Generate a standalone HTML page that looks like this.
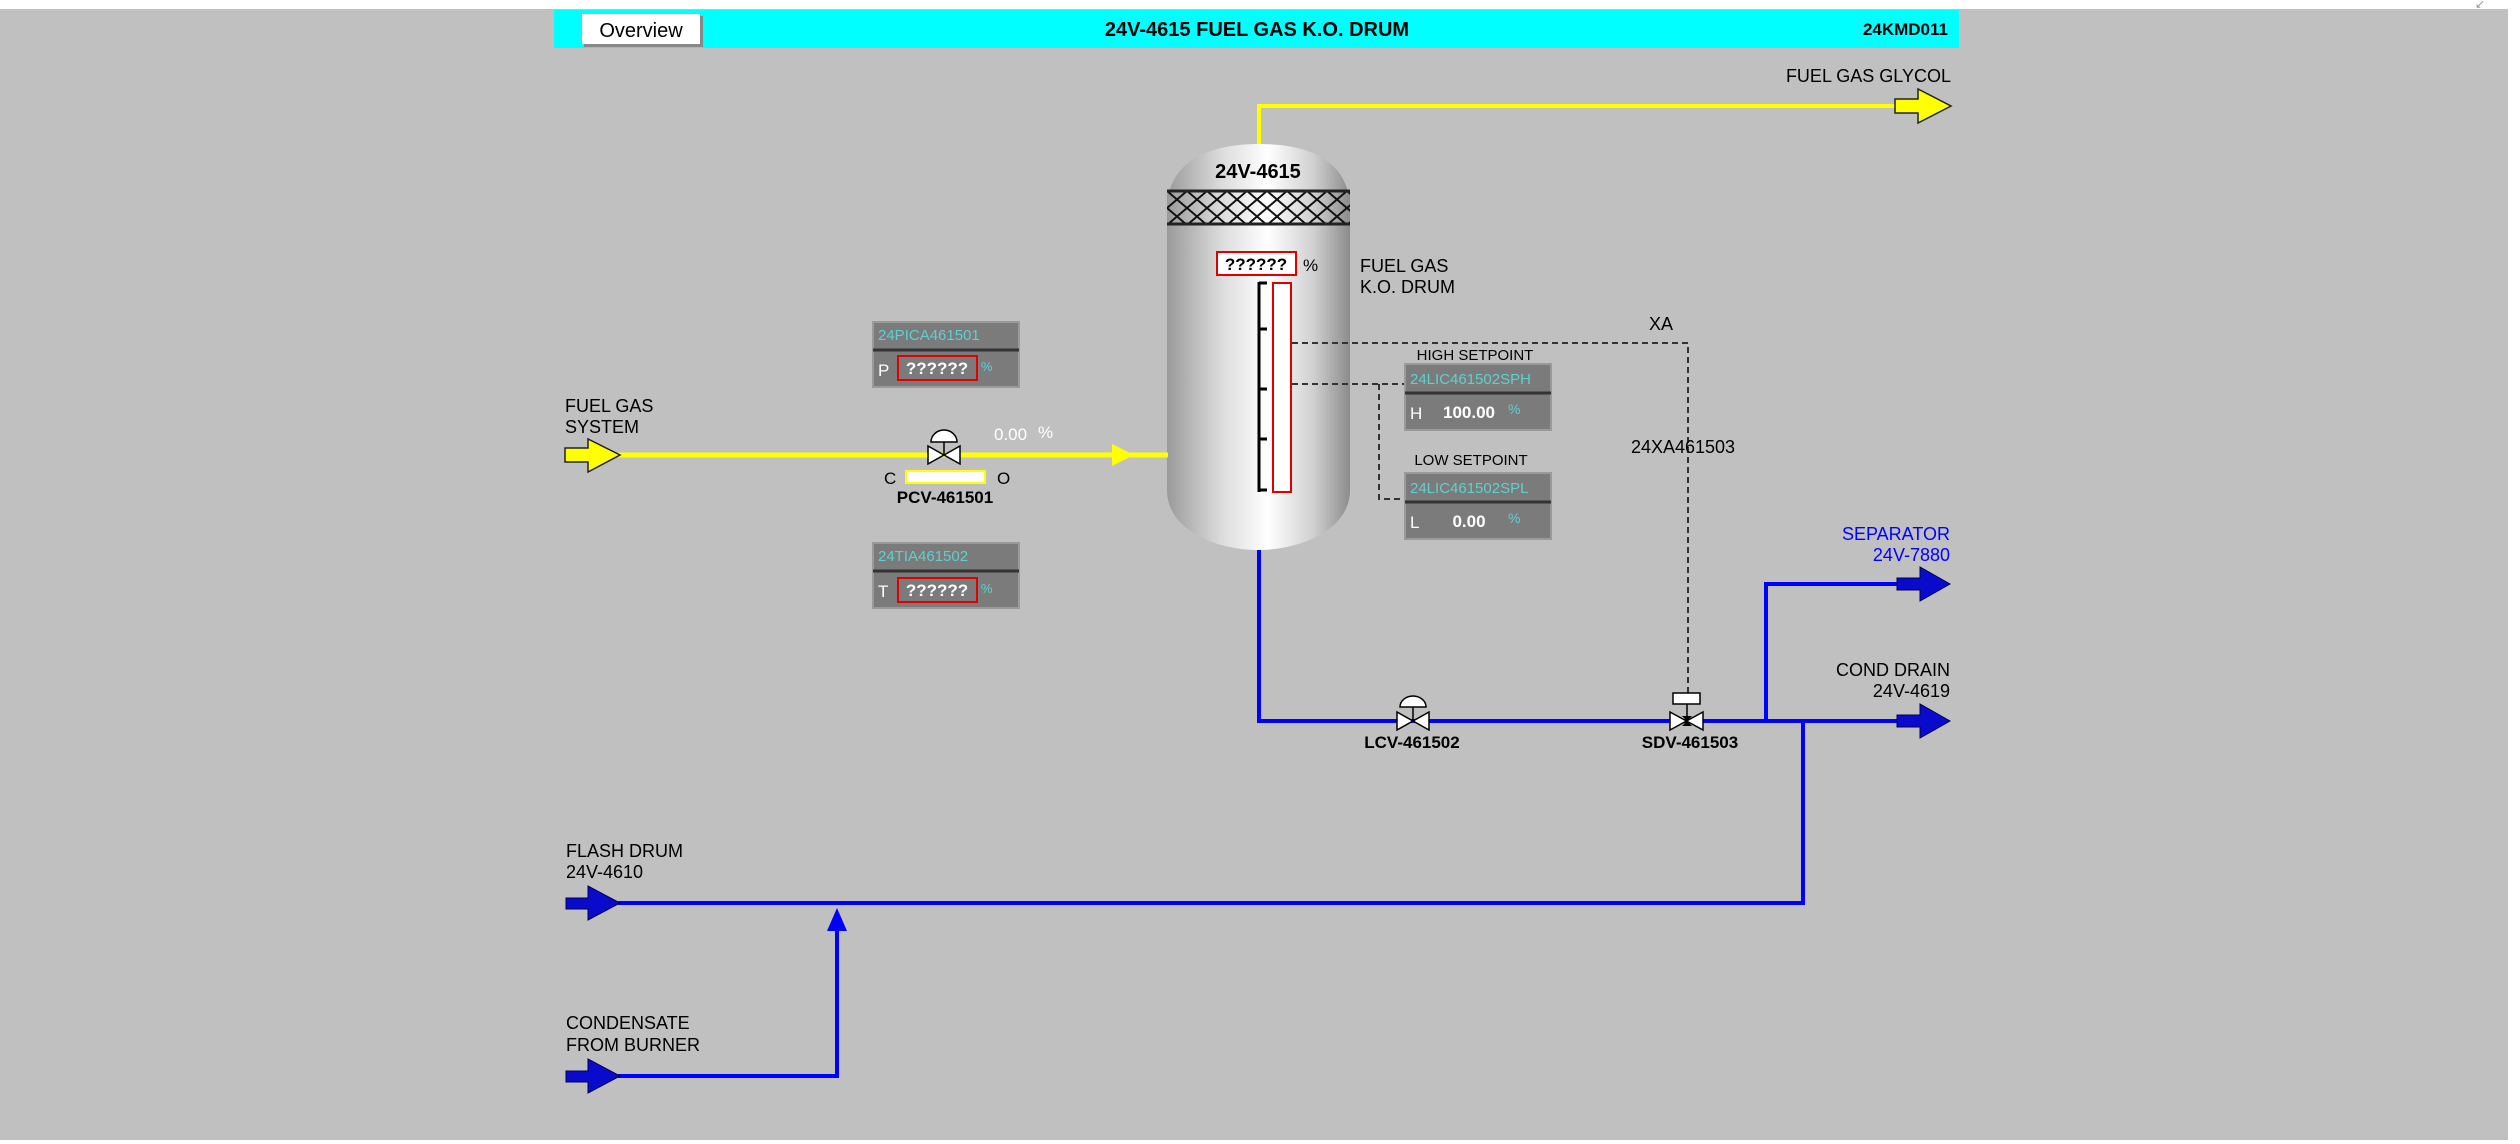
<!DOCTYPE html>
<html><head><meta charset="utf-8"><style>
html,body{margin:0;padding:0;width:2520px;height:1144px;overflow:hidden;background:#fff}
svg{display:block}
text{font-family:"Liberation Sans",Arial,sans-serif}
</style></head><body>
<svg width="2520" height="1144" viewBox="0 0 2520 1144" xmlns="http://www.w3.org/2000/svg">
<defs>
<linearGradient id="vg" x1="0" x2="1" y1="0" y2="0">
<stop offset="0" stop-color="#9a9a9a"/><stop offset="0.3" stop-color="#dcdcdc"/><stop offset="0.55" stop-color="#ffffff"/><stop offset="0.8" stop-color="#d0d0d0"/><stop offset="1" stop-color="#8c8c8c"/>
</linearGradient>
<pattern id="mesh" width="20" height="17" patternUnits="userSpaceOnUse" x="1167" y="191">
<path d="M0 0 L20 17 M20 0 L0 17" stroke="#111" stroke-width="2"/>
</pattern>
</defs>
<rect x="0" y="9" width="2508" height="1131" fill="#c0c0c0"/>
<text x="2475" y="8" font-size="12" fill="#999">↙</text>
<!-- header -->
<rect x="554" y="10" width="1405" height="38" fill="#00ffff"/>
<rect x="584" y="16" width="119" height="31" fill="#888"/>
<rect x="582" y="14" width="118" height="30" fill="#fff"/>
<text x="641" y="37" font-size="20" text-anchor="middle" fill="#000">Overview</text>
<text x="1257" y="36" font-size="20" font-weight="bold" text-anchor="middle">24V-4615 FUEL GAS K.O. DRUM</text>
<text x="1948" y="35" font-size="17" font-weight="bold" text-anchor="end">24KMD011</text>

<!-- yellow top line -->
<polyline points="1259,144 1259,106 1897,106" fill="none" stroke="#ffff00" stroke-width="4"/>
<path d="M1895 99 H1918 V89 L1951 106 L1918 123 V113 H1895 Z" fill="#ffff00" stroke="#222" stroke-width="1.5"/>
<text x="1951" y="82" font-size="18" text-anchor="end">FUEL GAS GLYCOL</text>

<!-- vessel -->
<path d="M1167 210 C1167 150 1230 144 1258 144 C1290 144 1350 150 1350 210 L1350 490 C1350 530 1300 550 1258 550 C1216 550 1167 530 1167 490 Z" fill="url(#vg)"/>
<text x="1258" y="178" font-size="20" font-weight="bold" text-anchor="middle">24V-4615</text>
<rect x="1167" y="191" width="183" height="33" fill="url(#vg)"/>
<rect x="1167" y="191" width="183" height="33" fill="url(#mesh)"/>
<line x1="1167" y1="191" x2="1350" y2="191" stroke="#222" stroke-width="3"/>
<line x1="1167" y1="224" x2="1350" y2="224" stroke="#222" stroke-width="3"/>
<rect x="1217" y="252" width="79" height="23" fill="#fff" stroke="#e00000" stroke-width="2"/>
<text x="1256" y="270" font-size="17" font-weight="bold" text-anchor="middle">??????</text>
<text x="1303" y="271" font-size="17">%</text>
<text x="1360" y="272" font-size="18">FUEL GAS</text>
<text x="1360" y="293" font-size="18">K.O. DRUM</text>
<line x1="1259" y1="282" x2="1259" y2="492" stroke="#000" stroke-width="3"/>
<g stroke="#000" stroke-width="3"><line x1="1259" y1="283" x2="1267" y2="283"/><line x1="1259" y1="329" x2="1267" y2="329"/><line x1="1259" y1="389" x2="1267" y2="389"/><line x1="1259" y1="439" x2="1267" y2="439"/><line x1="1259" y1="490" x2="1267" y2="490"/></g>
<rect x="1273" y="283" width="18" height="209" fill="#fff" stroke="#e00000" stroke-width="2"/>

<!-- dashed lines -->
<g fill="none" stroke="#333" stroke-width="2" stroke-dasharray="6,4">
<polyline points="1292,343 1688,343 1688,693"/>
<polyline points="1292,384 1405,384"/>
<polyline points="1379,384 1379,499 1405,499"/>
</g>
<text x="1661" y="330" font-size="18" text-anchor="middle">XA</text>
<text x="1683" y="453" font-size="18" text-anchor="middle">24XA461503</text>

<!-- setpoint boxes -->
<text x="1475" y="360" font-size="15" text-anchor="middle">HIGH SETPOINT</text>
<rect x="1405" y="364" width="146" height="66" fill="#7b7b7b" stroke="#9a9a9a" stroke-width="2"/>
<line x1="1405" y1="393" x2="1551" y2="393" stroke="#333" stroke-width="3"/>
<text x="1410" y="384" font-size="15" fill="#5fd0d0">24LIC461502SPH</text>
<text x="1410" y="419" font-size="17" fill="#fff">H</text>
<text x="1469" y="418" font-size="17" font-weight="bold" fill="#fff" text-anchor="middle">100.00</text>
<text x="1508" y="414" font-size="14" fill="#5fd0d0">%</text>

<text x="1471" y="465" font-size="15" text-anchor="middle">LOW SETPOINT</text>
<rect x="1405" y="473" width="146" height="66" fill="#7b7b7b" stroke="#9a9a9a" stroke-width="2"/>
<line x1="1405" y1="502" x2="1551" y2="502" stroke="#333" stroke-width="3"/>
<text x="1410" y="493" font-size="15" fill="#5fd0d0">24LIC461502SPL</text>
<text x="1410" y="528" font-size="17" fill="#fff">L</text>
<text x="1469" y="527" font-size="17" font-weight="bold" fill="#fff" text-anchor="middle">0.00</text>
<text x="1508" y="523" font-size="14" fill="#5fd0d0">%</text>

<!-- PICA / TIA -->
<rect x="873" y="322" width="146" height="65" fill="#7b7b7b" stroke="#9a9a9a" stroke-width="2"/>
<line x1="873" y1="350" x2="1019" y2="350" stroke="#333" stroke-width="3"/>
<text x="878" y="340" font-size="15" fill="#5fd0d0">24PICA461501</text>
<text x="878" y="376" font-size="17" fill="#fff">P</text>
<rect x="898" y="356" width="79" height="24" fill="none" stroke="#e00000" stroke-width="2"/>
<text x="937" y="374" font-size="17" font-weight="bold" fill="#fff" text-anchor="middle">??????</text>
<text x="981" y="371" font-size="13" fill="#5fd0d0">%</text>

<rect x="873" y="543" width="146" height="65" fill="#7b7b7b" stroke="#9a9a9a" stroke-width="2"/>
<line x1="873" y1="571" x2="1019" y2="571" stroke="#333" stroke-width="3"/>
<text x="878" y="561" font-size="15" fill="#5fd0d0">24TIA461502</text>
<text x="878" y="597" font-size="17" fill="#fff">T</text>
<rect x="898" y="578" width="79" height="24" fill="none" stroke="#e00000" stroke-width="2"/>
<text x="937" y="596" font-size="17" font-weight="bold" fill="#fff" text-anchor="middle">??????</text>
<text x="981" y="593" font-size="13" fill="#5fd0d0">%</text>

<!-- yellow inlet -->
<text x="565" y="412" font-size="18">FUEL GAS</text>
<text x="565" y="433" font-size="18">SYSTEM</text>
<line x1="618" y1="455" x2="1168" y2="455" stroke="#ffff00" stroke-width="5"/>
<path d="M565 448 H588 V439 L620 455 L588 472 V462 H565 Z" fill="#ffff00" stroke="#222" stroke-width="1.5"/>
<path d="M1112 444 L1134 455 L1112 466 Z" fill="#ffff00"/>
<!-- PCV -->
<line x1="944" y1="440" x2="944" y2="455" stroke="#000" stroke-width="1.5"/>
<path d="M931 442 A13 12 0 0 1 957 442 Z" fill="#fff" stroke="#000" stroke-width="1.5"/>
<path d="M928 446 L960 464 L960 446 L928 464 Z" fill="#fff" stroke="#000" stroke-width="1.5"/>
<text x="994" y="440" font-size="17" fill="#fff">0.00</text>
<text x="1038" y="438" font-size="17" fill="#fff">%</text>
<text x="884" y="484" font-size="17">C</text>
<rect x="906" y="471" width="79" height="12" fill="#fff" stroke="#ffff00" stroke-width="2"/>
<text x="997" y="484" font-size="17">O</text>
<text x="945" y="503" font-size="17" font-weight="bold" text-anchor="middle">PCV-461501</text>

<!-- blue pipes -->
<g fill="none" stroke="#0000ff" stroke-width="4">
<polyline points="1259,550 1259,721 1898,721"/>
<polyline points="1766,721 1766,584 1898,584"/>
<polyline points="1803,721 1803,903 618,903"/>
<polyline points="618,1076 837,1076 837,925"/>
</g>
<path d="M827 931 L837 908 L847 931 Z" fill="#0000ff"/>
<g fill="#0a0acc" stroke="#000050" stroke-width="1">
<path d="M1897 578 H1920 V567 L1950 584 L1920 601 V590 H1897 Z"/>
<path d="M1897 715 H1920 V704 L1950 721 L1920 738 V727 H1897 Z"/>
<path d="M566 898 H588 V886 L620 903 L588 920 V909 H566 Z"/>
<path d="M566 1071 H588 V1059 L620 1076 L588 1093 V1082 H566 Z"/>
</g>
<text x="1950" y="540" font-size="18" fill="#0000ff" text-anchor="end">SEPARATOR</text>
<text x="1950" y="561" font-size="18" fill="#0000ff" text-anchor="end">24V-7880</text>
<text x="1950" y="676" font-size="18" text-anchor="end">COND DRAIN</text>
<text x="1950" y="697" font-size="18" text-anchor="end">24V-4619</text>
<text x="566" y="857" font-size="18">FLASH DRUM</text>
<text x="566" y="878" font-size="18">24V-4610</text>
<text x="566" y="1029" font-size="18">CONDENSATE</text>
<text x="566" y="1051" font-size="18">FROM BURNER</text>

<!-- LCV -->
<line x1="1413" y1="706" x2="1413" y2="721" stroke="#000" stroke-width="1.5"/>
<path d="M1400 707 A13 11 0 0 1 1426 707 Z" fill="#fff" stroke="#000" stroke-width="1.5"/>
<path d="M1397 712 L1429 730 L1429 712 L1397 730 Z" fill="#fff" stroke="#000" stroke-width="1.5"/>
<text x="1412" y="748" font-size="17" font-weight="bold" text-anchor="middle">LCV-461502</text>
<!-- SDV -->
<rect x="1673" y="693" width="27" height="11" fill="#fff" stroke="#000" stroke-width="1.5"/>
<line x1="1687" y1="704" x2="1687" y2="721" stroke="#000" stroke-width="1.5"/>
<path d="M1670 712 L1703 730 L1703 712 L1670 730 Z" fill="#fff" stroke="#000" stroke-width="1.5"/>
<path d="M1682 716 L1692 716 L1687 721 Z M1682 726 L1692 726 L1687 721 Z" fill="#000"/>
<text x="1690" y="748" font-size="17" font-weight="bold" text-anchor="middle">SDV-461503</text>
</svg>
</body></html>
